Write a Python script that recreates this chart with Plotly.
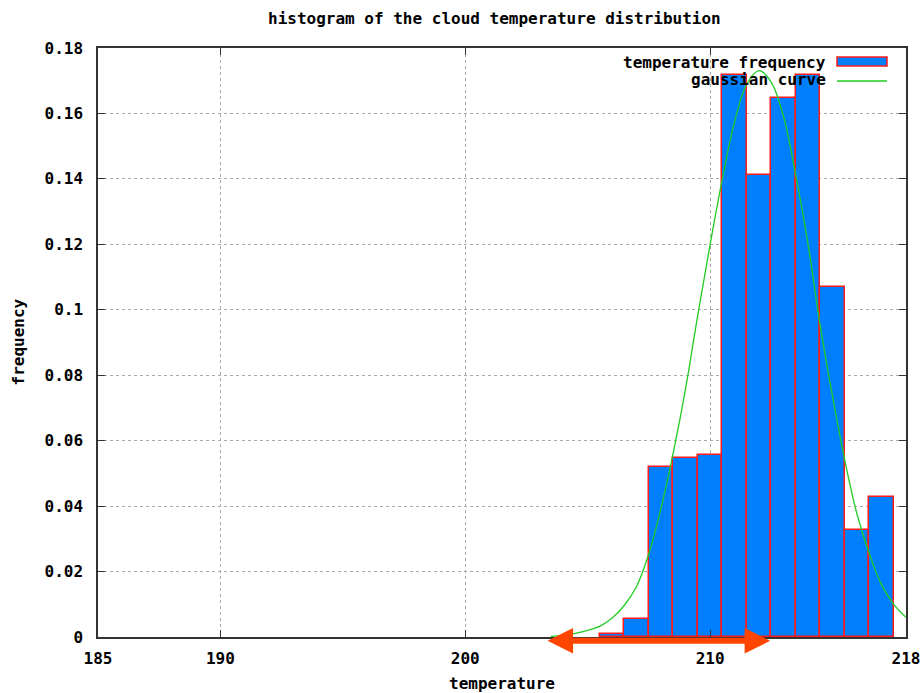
import plotly.graph_objects as go

# ---- data ----
bin_centers = [206, 207, 208, 209, 210, 211, 212, 213, 214, 215, 216, 217]
bin_freq = [0.0009, 0.0054, 0.0521, 0.0546, 0.0555, 0.1717, 0.1411, 0.1648, 0.1717, 0.1071, 0.0326, 0.0429]
bin_width = 1.0

curve_x = [203.5, 204, 204.5, 205, 205.5, 206, 206.5, 207, 207.5, 208, 208.5, 209, 209.5, 210,
           210.5, 211, 211.5, 212, 212.5, 213, 213.5, 214, 214.5, 215, 215.5, 216, 216.5, 217, 217.5, 218]
curve_y = [0.0002, 0.0005, 0.0011, 0.0020, 0.0033, 0.0058, 0.0097, 0.0155, 0.0255, 0.0395, 0.0565,
           0.0760, 0.0985, 0.1200, 0.1400, 0.1575, 0.1690, 0.1731, 0.1695, 0.1590, 0.1410, 0.1200,
           0.0950, 0.0735, 0.0540, 0.0375, 0.0255, 0.0160, 0.0100, 0.0060]

x_tickvals = [185, 190, 200, 210, 218]
x_ticktext = ["185", "190", "200", "210", "218"]
y_tickvals = [0, 0.02, 0.04, 0.06, 0.08, 0.1, 0.12, 0.14, 0.16, 0.18]
y_ticktext = ["0", "0.02", "0.04", "0.06", "0.08", "0.1", "0.12", "0.14", "0.16", "0.18"]

arrow_start = 203.3
arrow_end = 212.45

title_text = "histogram of the cloud temperature distribution"
xlabel = "temperature"
ylabel = "frequency"
legend_labels = ["temperature frequency", "gaussian curve"]

# ---- styles ----
FONT = dict(family="DejaVu Sans Mono", size=16, color="black", weight="bold")
BAR_FILL = "#0080FF"
BAR_EDGE = "#FF1A1A"
GREEN = "#22CC22"
ORANGE = "#FF4500"

fig = go.Figure()
fig.add_trace(go.Bar(x=bin_centers, y=bin_freq, width=bin_width,
                     marker=dict(color=BAR_FILL, line=dict(color=BAR_EDGE, width=1.5)),
                     showlegend=False))
fig.add_trace(go.Scatter(x=curve_x, y=curve_y, mode="lines", line_shape="spline",
                         line=dict(color=GREEN, width=1.3), showlegend=False))

axis_common = dict(showline=True, linecolor="#333333", linewidth=1.5, mirror="allticks",
                   ticks="inside", ticklen=7, tickwidth=1, tickcolor="#333333",
                   showgrid=True, gridcolor="#aaaaaa", griddash="dot", gridwidth=1,
                   zeroline=False, tickfont=FONT, automargin=False)

fig.update_xaxes(range=[185, 218], tickmode="array", tickvals=x_tickvals, ticktext=x_ticktext,
                 ticklabelstandoff=6, **axis_common)
fig.update_yaxes(range=[0, 0.18], tickmode="array", tickvals=y_tickvals, ticktext=y_ticktext,
                 ticklabelstandoff=10, **axis_common)

annotations = [
    dict(text=title_text, xref="paper", yref="paper", x=0.491, y=1, yshift=30,
         xanchor="center", yanchor="middle", showarrow=False, font=FONT),
    dict(text=xlabel, xref="paper", yref="paper", x=0.5, y=0, yshift=-46,
         xanchor="center", yanchor="middle", showarrow=False, font=FONT),
    dict(text=ylabel, xref="paper", yref="paper", x=0, y=0.5, xshift=-80, textangle=-90,
         xanchor="center", yanchor="middle", showarrow=False, font=FONT),
    # manual gnuplot-style legend (text left, sample right)
    dict(text=legend_labels[0], xref="paper", yref="paper", x=0.9035, y=0.976,
         xanchor="right", yanchor="middle", showarrow=False, font=FONT),
    dict(text=legend_labels[1], xref="paper", yref="paper", x=0.9035, y=0.9457,
         xanchor="right", yanchor="middle", showarrow=False, font=FONT),
    # orange double-headed arrow under the axis
    dict(text="", xref="x", yref="paper", x=arrow_end, y=-0.0065,
         axref="x", ax=arrow_start, ayref="pixel", ay=0,
         showarrow=True, arrowside="end+start",
         arrowhead=2, arrowsize=0.85, startarrowhead=2, startarrowsize=0.85,
         arrowwidth=6, arrowcolor=ORANGE, standoff=0, startstandoff=0),
]

shapes = [
    dict(type="rect", xref="paper", yref="paper", x0=0.9146, x1=0.9765, y0=0.9694, y1=0.9847,
         fillcolor=BAR_FILL, line=dict(color=BAR_EDGE, width=1.5)),
    dict(type="line", xref="paper", yref="paper", x0=0.9146, x1=0.9765, y0=0.944, y1=0.944,
         line=dict(color=GREEN, width=1.3)),
]

fig.update_layout(width=921, height=693, margin=dict(l=98, r=15, t=48, b=56),
                  paper_bgcolor="white", plot_bgcolor="white", bargap=0,
                  annotations=annotations, shapes=shapes, font=FONT)

fig.write_html("out.html")
